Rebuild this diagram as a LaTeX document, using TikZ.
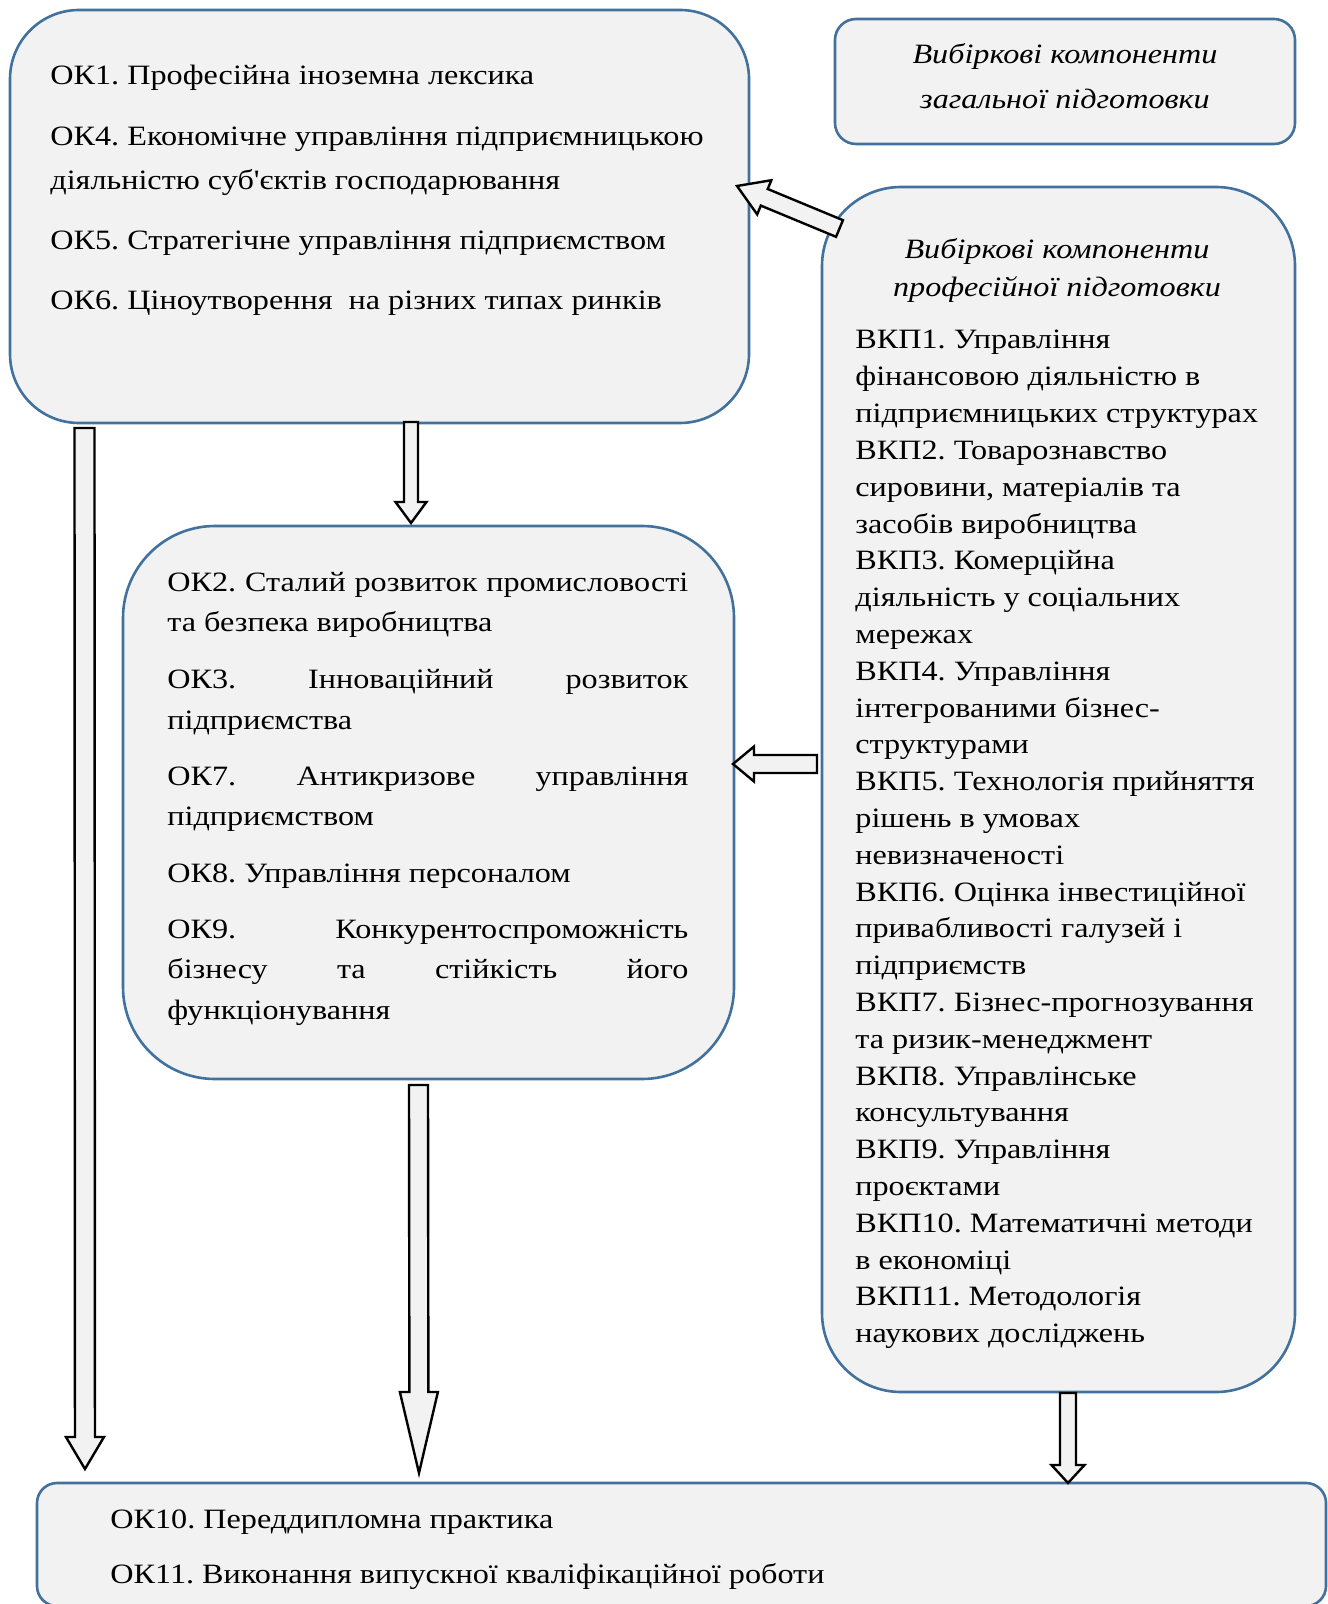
\documentclass[tikz,border=0pt]{standalone}
\usepackage{fontspec}
\setmainfont{Liberation Serif}[FakeStretch=1.15]
\newfontfamily\aposfont{Liberation Serif}[FakeStretch=1.15]
\usetikzlibrary{calc}
\definecolor{bordblue}{RGB}{65,113,156}
\definecolor{boxfill}{RGB}{242,242,242}
\tikzset{
  roundbox/.style={draw=bordblue, line width=1.3pt, fill=boxfill, inner sep=0pt, outer sep=0pt},
  txt/.style={anchor=base west, inner sep=0pt, font=\fontsize{14pt}{16pt}\selectfont\frenchspacing},
  itxt/.style={anchor=base, inner sep=0pt, font=\fontsize{14pt}{16pt}\selectfont\itshape\frenchspacing},
  blockarrow/.style={draw=black, line width=1.2pt, fill=boxfill, line join=miter},
}
\newcommand\barrow[5]{%
  \path let \p1=($(#2)-(#1)$), \n1={atan2(\y1,\x1)}, \n2={veclen(\x1,\y1)} in \pgfextra{\xdef\bang{\n1}\xdef\blen{\n2}};
  \filldraw[blockarrow, shift={(#1)}, rotate=\bang]
    (0pt,#3*0.25pt) -- (\blen-#5*0.5pt,#3*0.25pt) -- (\blen-#5*0.5pt,#4*0.25pt) -- (\blen,0pt)
    -- (\blen-#5*0.5pt,-#4*0.25pt) -- (\blen-#5*0.5pt,-#3*0.25pt) -- (0pt,-#3*0.25pt) -- cycle;
}
\begin{document}
\begin{tikzpicture}[x=0.5pt,y=-0.5pt]
\useasboundingbox (0,0) rectangle (1327,1604);

% boxes
\node[roundbox, rounded corners=34.5pt, minimum width=369.5pt, minimum height=206.5pt] (okbox) at (379.5,216.5) {};
\node[roundbox, rounded corners=10.5pt, minimum width=230pt, minimum height=62.5pt] (genbox) at (1065,81.5) {};
\node[roundbox, rounded corners=39.5pt, minimum width=236.5pt, minimum height=602.5pt] (profbox) at (1058.5,789.5) {};
\node[roundbox, rounded corners=46pt, minimum width=305.5pt, minimum height=276.5pt] (ok2box) at (428.5,802.5) {};
\node[roundbox, rounded corners=10pt, minimum width=644.5pt, minimum height=61.5pt] (botbox) at (681.5,1544.5) {};

% box 1 text
\node[txt] (t11) at (50,85) {ОК1. Професійна іноземна лексика};
\node[txt] (t12) at (50,146) {ОК4. Економічне управління підприємницькою};
\node[txt] (t13) at (50,190) {діяльністю суб{\aposfont'}єктів господарювання};
\node[txt] (t14) at (50,250) {ОК5. Стратегічне управління підприємством};
\node[txt] (t15) at (50,310) {ОК6. Ціноутворення\ \ на різних типах ринків};

% general box text
\node[itxt] (g1) at (1065,64) {Вибіркові компоненти};
\node[itxt] (g2) at (1065,109) {загальної підготовки};

% professional box text
\node[itxt] (p1) at (1057,259) {Вибіркові компоненти};
\node[itxt] (p2) at (1057,297) {професійної підготовки};
\foreach \t [count=\i from 0] in {
  ВКП1. Управління, фінансовою діяльністю в, підприємницьких структурах,
  ВКП2. Товарознавство, {сировини, матеріалів та}, засобів виробництва,
  ВКП3. Комерційна, діяльність у соціальних, мережах,
  ВКП4. Управління, інтегрованими бізнес-, структурами,
  ВКП5. Технологія прийняття, рішень в умовах, невизначеності,
  ВКП6. Оцінка інвестиційної, привабливості галузей і, підприємств,
  ВКП7. Бізнес-прогнозування, та ризик-менеджмент,
  ВКП8. Управлінське, консультування,
  ВКП9. Управління, проєктами,
  ВКП10. Математичні методи, в економіці,
  ВКП11. Методологія, наукових досліджень}
  \node[txt] (v\i) at (855,349+\i*36.8) {\t};

% box 2 text
\node[txt] (s1) at (167,591) {\makebox[260.5pt][s]{ОК2. Сталий розвиток промисловості}};
\node[txt] (s2) at (167,631) {та безпека виробництва};
\node[txt] (s3) at (167,688) {\makebox[260.5pt][s]{ОК3. Інноваційний розвиток}};
\node[txt] (s4) at (167,729) {підприємства};
\node[txt] (s5) at (167,785) {\makebox[260.5pt][s]{ОК7. Антикризове управління}};
\node[txt] (s6) at (167,825) {підприємством};
\node[txt] (s7) at (167,882) {ОК8. Управління персоналом};
\node[txt] (s8) at (167,938) {\makebox[260.5pt][s]{ОК9. Конкурентоспроможність}};
\node[txt] (s9) at (167,978) {\makebox[260.5pt][s]{бізнесу та стійкість його}};
\node[txt] (s10) at (167,1019) {функціонування};

% bottom box text
\node[txt] (b1) at (110,1528) {ОК10. Переддипломна практика};
\node[txt] (b2) at (110,1583) {ОК11. Виконання випускної кваліфікаційної роботи};

% arrow end points
\coordinate (aAs) at (411,422);   \coordinate (aAe) at (411,523);
\coordinate (aBs) at (84.5,428);  \coordinate (aBe) at (85,1469);
\coordinate (aCs) at (418.5,1085);\coordinate (aCe) at (419,1473);
\coordinate (aDs) at (817,764);   \coordinate (aDe) at (733,764);
\coordinate (aEs) at (1068,1393); \coordinate (aEe) at (1068,1483);
\coordinate (aFs) at (839.5,228.5);\coordinate (aFe) at (737,186);

\barrow{aAs}{aAe}{14}{31}{21}
\barrow{aBs}{aBe}{20}{38}{32}
\barrow{aCs}{aCe}{19}{38}{81}
\barrow{aDs}{aDe}{18}{35}{21}
\barrow{aEs}{aEe}{16}{33}{18}
\barrow{aFs}{aFe}{18}{37}{29.5}
\end{tikzpicture}
\end{document}
